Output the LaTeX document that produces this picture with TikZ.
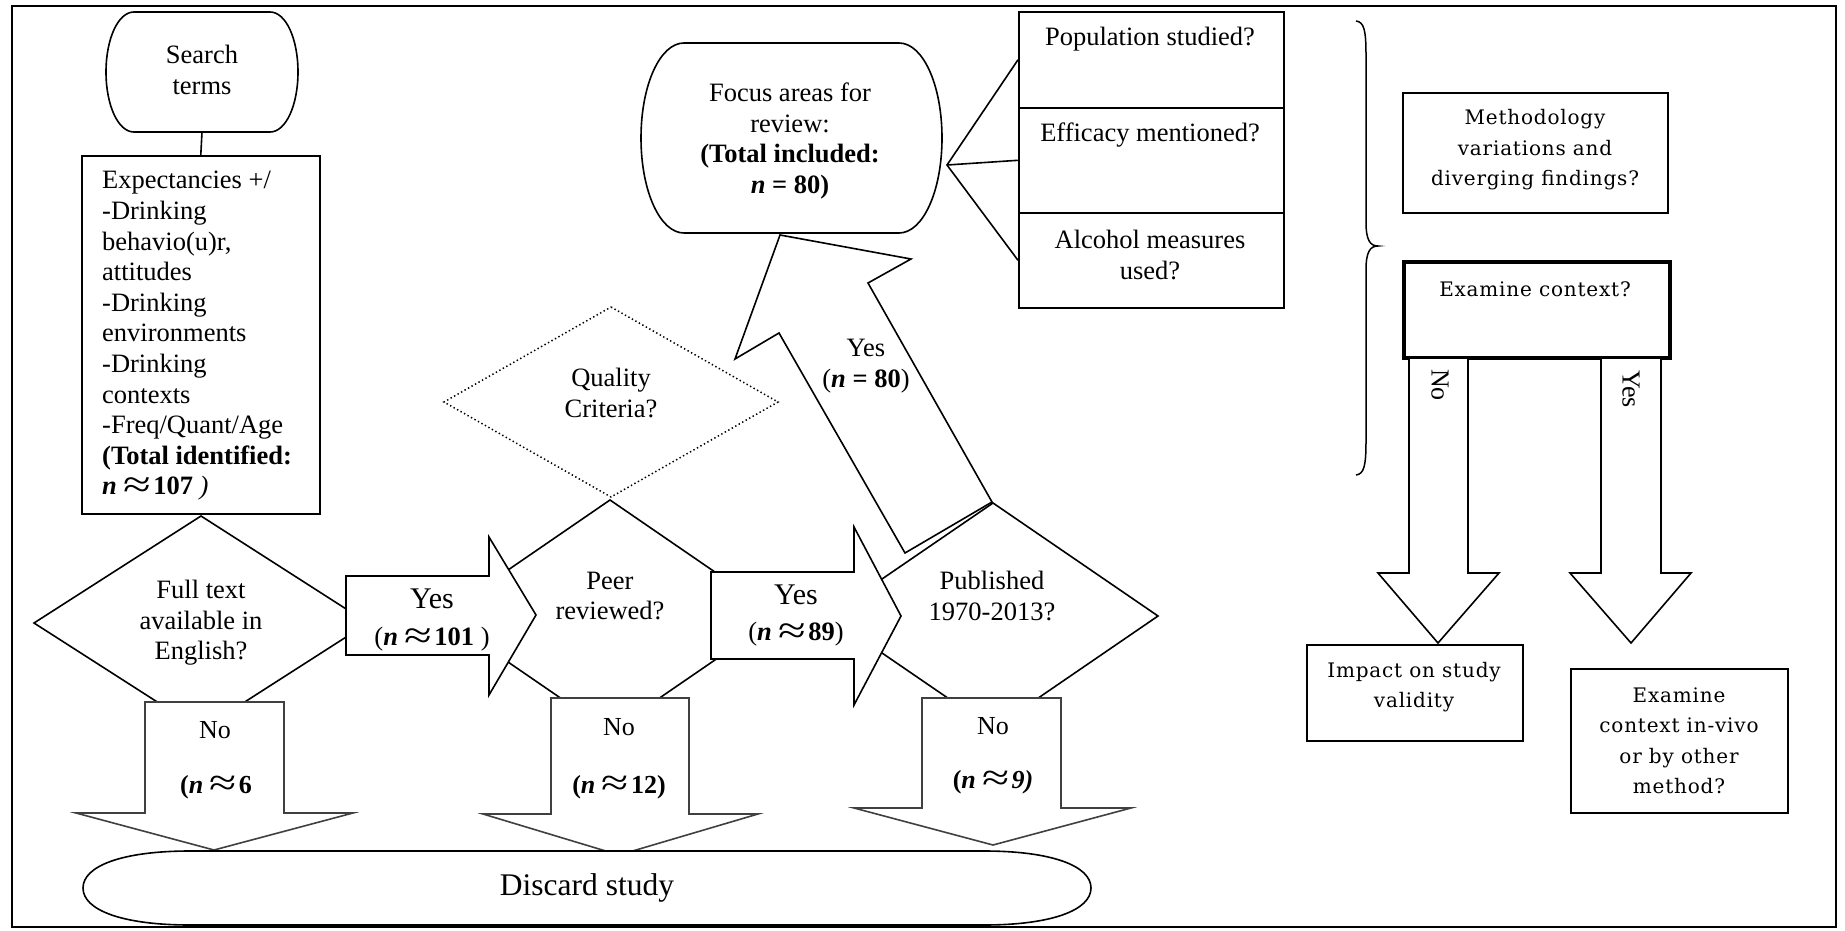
\documentclass[tikz,border=0pt]{standalone}
\usepackage{graphicx}
\usepackage{fontspec}
\setmainfont{Liberation Serif}
\newfontfamily\wide[LetterSpace=4]{DejaVu Serif}
\newcommand\apx{\raisebox{-0.1em}[0pt][0pt]{\mdseries\upshape\scalebox{1.9}[1.45]{≈}}\hspace{0.08em}}
\begin{document}
\begin{tikzpicture}[x=1pt,y=-1pt,line join=miter,
  ln/.style={line width=1.6pt},
  box/.style={draw,line width=1.6pt,inner sep=0pt,anchor=north west},
  txt/.style={inner sep=0pt,align=center,font=\fontsize{26.5}{30.6}\selectfont},
  yeslab/.style={inner sep=0pt,align=center,font=\fontsize{30}{34}\selectfont},
  nolab/.style={inner sep=0pt,align=center,font=\fontsize{26}{30}\selectfont},
  widetxt/.style={inner sep=0pt,align=center,font=\wide\fontsize{20}{30.5}\selectfont},
  blockarrow/.style={line width=1.6pt,fill=white,draw=black},
  downarrow/.style={line width=1.6pt,fill=white,draw=black!75}]
\useasboundingbox (0,0) rectangle (1845,931);
% outer frame
\draw[line width=2pt] (12,6) rectangle (1836,927);

% search terms
\draw[ln] (134,12) -- (270,12) .. controls (286,12) and (298,39) .. (298,72) .. controls (298,105) and (286,132) .. (270,132) -- (134,132) .. controls (118,132) and (106,105) .. (106,72) .. controls (106,39) and (118,12) .. (134,12) -- cycle;
\coordinate (searchbot) at (202,132);
\node[box,minimum width=238,minimum height=358] (expect) at (81,155) {};
\draw[ln] (searchbot) -- (expect.north);

% big yes arrow (behind published diamond)
\draw[blockarrow] (780,235) -- (911,259) -- (868,283) -- (992,502) -- (905,553) -- (779,333) -- (735,359) -- cycle;

% focus areas
\draw[ln,fill=white] (684,43) -- (899,43) .. controls (923,43) and (942,85) .. (942,138) .. controls (942,191) and (923,233) .. (899,233) -- (684,233) .. controls (660,233) and (641,191) .. (641,138) .. controls (641,85) and (660,43) .. (684,43) -- cycle;
\coordinate (apex) at (947,165);
\node[box,minimum width=265,minimum height=96] (pop) at (1018,11) {};
\node[box,minimum width=265,minimum height=105] (eff) at (1018,107) {};
\node[box,minimum width=265,minimum height=95] (alc) at (1018,212) {};
\draw[ln] (pop.west) -- (apex) -- (alc.west);
\draw[ln] (apex) -- (eff.west);

% quality criteria (dotted)
\draw[line width=1.5pt,dash pattern=on 1.4pt off 2.6pt] (611,307) -- (778,402) -- (611,497) -- (444,402) -- cycle;

% decision diamonds
\draw[ln,fill=white] (201,516) -- (368,623) -- (201,730) -- (34,623) -- cycle;
\draw[ln,fill=white] (610,500) -- (779,616) -- (610,732) -- (441,616) -- cycle;
\draw[ln,fill=white] (993,503) -- (1158,616) -- (993,729) -- (828,616) -- cycle;

% yes arrows
\draw[blockarrow] (346,576) -- (489,576) -- (489,537) -- (536,615) -- (489,695) -- (489,655) -- (346,655) -- cycle;
\draw[blockarrow] (711,572) -- (854,572) -- (854,527) -- (901,616) -- (854,705) -- (854,659) -- (711,659) -- cycle;

% no arrows
\draw[downarrow] (145,702) -- (284,702) -- (284,813) -- (353,813) -- (214,850) -- (76,813) -- (145,813) -- cycle;
\draw[downarrow] (551,698) -- (689,698) -- (689,814) -- (758,814) -- (619,855) -- (483,814) -- (551,814) -- cycle;
\draw[downarrow] (922,698) -- (1061,698) -- (1061,808) -- (1131,808) -- (993,845) -- (854,808) -- (922,808) -- cycle;

% discard study
\draw[ln,fill=white] (190,851) -- (984,851) .. controls (1052,851) and (1091,866) .. (1091,888) .. controls (1091,910) and (1052,925) .. (984,925) -- (190,925) .. controls (122,925) and (83,910) .. (83,888) .. controls (83,866) and (122,851) .. (190,851) -- cycle;

% right panel
\draw[line width=1.5pt] (1356,21) .. controls (1364,22) and (1366,30) .. (1366,55) -- (1366,222) .. controls (1366,240) and (1370,246) .. (1378,246) .. controls (1370,246) and (1366,252) .. (1366,270) -- (1366,441) .. controls (1366,466) and (1364,474) .. (1356,475);
\node[box,minimum width=265,minimum height=120] (meth) at (1402,92) {};
\node[box,minimum width=266,minimum height=96,line width=4pt] (exam) at (1402,260) {};
\draw[blockarrow] (1409,358) -- (1468,358) -- (1468,573) -- (1499,573) -- (1438,643) -- (1378,573) -- (1409,573) -- cycle;
\draw[blockarrow] (1601,358) -- (1661,358) -- (1661,573) -- (1691,573) -- (1631,643) -- (1570,573) -- (1601,573) -- cycle;
\node[box,minimum width=216,minimum height=96] (impact) at (1306,644) {};
\node[box,minimum width=217,minimum height=144] (vivo) at (1570,668) {};

% texts
\node[txt] (searchtxt) at (202,70) {Search\\terms};
\node[txt,align=left,anchor=west] (expecttxt) at (102,336) {Expectancies +/\\-Drinking\\behavio(u)r,\\attitudes\\-Drinking\\environments\\-Drinking\\contexts\\-Freq/Quant/Age\\\textbf{(Total identified:}\\\textbf{\textit{n} \apx107} \textit{)}};
\node[txt] (focustxt) at (790,141) {Focus areas for\\review:\\\textbf{(Total included:}\\\textbf{\textit{n} = 80)}};
\node[txt] (poptxt) at (1150,39) {Population studied?};
\node[txt] (efftxt) at (1150,135) {Efficacy mentioned?};
\node[txt] (alctxt) at (1150,255) {Alcohol measures\\used?};
\node[txt] (qualtxt) at (611,393) {Quality\\Criteria?};
\node[txt] (fulltxt) at (201,623) {Full text\\available in\\English?};
\node[txt] (peertxt) at (610,596) {Peer\\reviewed?};
\node[txt] (pubtxt) at (992,596) {Published\\1970-2013?};
\node[yeslab] (yes1a) at (432,599) {Yes};
\node[txt] (yes1b) at (432,639) {(\textbf{\textit{n} \apx101} )};
\node[yeslab] (yes2a) at (796,595) {Yes};
\node[txt] (yes2b) at (796,634) {(\textbf{\textit{n} \apx89})};
\node[txt] (yes3a) at (866,348) {Yes};
\node[txt] (yes3b) at (866,381) {(\textbf{\textit{n} = 80})};
\node[nolab] (no1a) at (215,730) {No};
\node[nolab] (no1b) at (216,787) {\textbf{(\textit{n} \apx6}};
\node[nolab] (no2a) at (619,727) {No};
\node[nolab] (no2b) at (619,787) {\textbf{(\textit{n} \apx12)}};
\node[nolab] (no3a) at (993,726) {No};
\node[nolab] (no3b) at (993,782) {\textbf{(\textit{n} \apx\textit{9)}}};
\node[txt] (discardtxt) at (587,888) {\fontsize{31.5}{36}\selectfont Discard study};
\node[widetxt] (methtxt) at (1535,150) {Methodology\\variations and\\diverging findings?};
\node[widetxt] (examtxt) at (1535,289) {Examine context?};
\node[nolab,rotate=-90] (rno) at (1440,385) {No};
\node[nolab,rotate=-90] (ryes) at (1631,389) {Yes};
\node[widetxt] (impacttxt) at (1414,687) {Impact on study\\validity};
\node[widetxt] (vivotxt) at (1679,741) {Examine\\context in-vivo\\or by other\\method?};
\end{tikzpicture}
\end{document}
